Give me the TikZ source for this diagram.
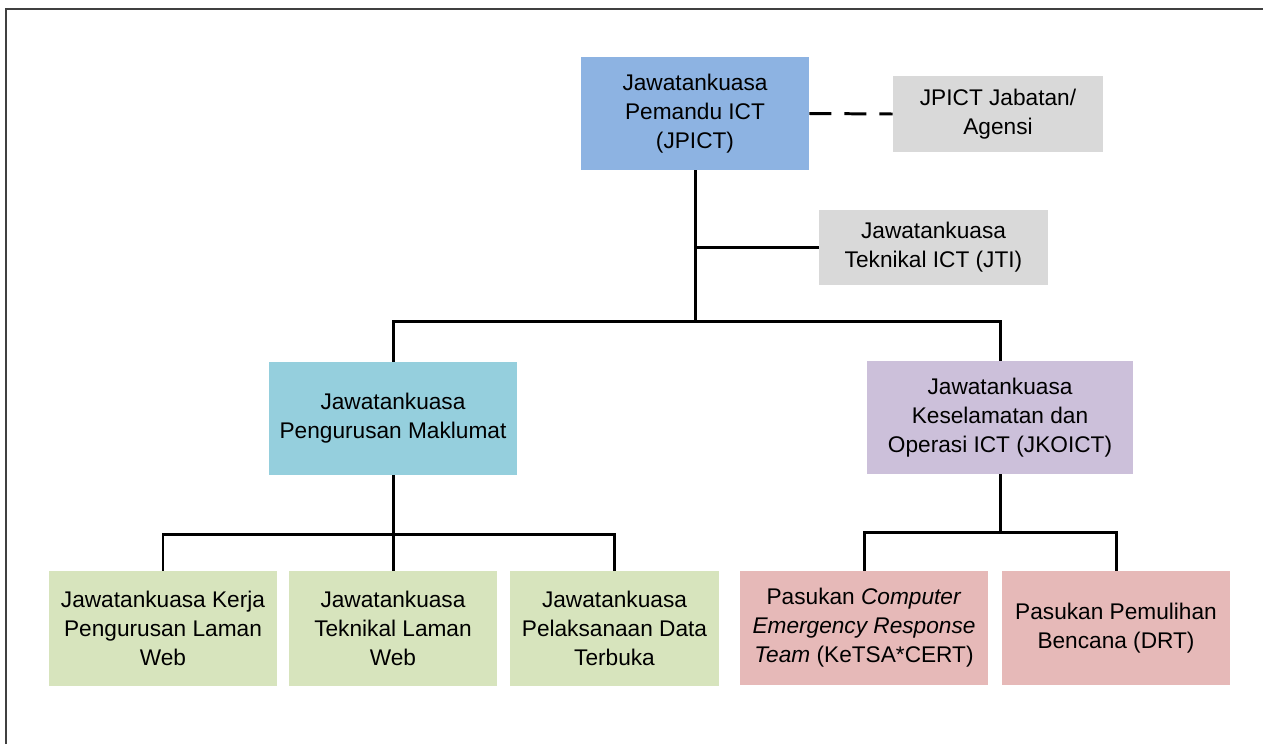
\documentclass[tikz,border=0pt]{standalone}
\usepackage{fontspec}
\setmainfont{Liberation Sans}
\usepackage{xcolor}
\usepackage{tikz}
\usetikzlibrary{positioning}
\definecolor{pandublue}{HTML}{8DB3E2}
\definecolor{agensigray}{HTML}{D9D9D9}
\definecolor{maklumatcyan}{HTML}{95CFDD}
\definecolor{operasililac}{HTML}{CCC0DA}
\definecolor{webgreen}{HTML}{D7E4BD}
\definecolor{pasukanred}{HTML}{E6B9B8}
\definecolor{framegray}{HTML}{404040}
\tikzset{
    unit/.style={rectangle, inner sep=2pt, align=center,
        font=\fontsize{12.9}{16.5}\selectfont},
    link/.style={line width=1.7pt, black},
}

\begin{document}
\begin{tikzpicture}[x=0.02cm, y=-0.02cm]
    \useasboundingbox (0,0) rectangle (1263,744);
    \draw[framegray, line width=1.1pt] (6,744) -- (6,9) -- (1263,9);

    \node[unit, fill=pandublue, minimum width=4.56cm, minimum height=2.26cm] (jpict) at (695,113.5)
        {Jawatankuasa\\Pemandu ICT\\(JPICT)};
    \node[unit, fill=agensigray, minimum width=4.2cm, minimum height=1.52cm] (agensi) at (998,114)
        {JPICT Jabatan/\\Agensi};
    \node[unit, fill=agensigray, minimum width=4.58cm, minimum height=1.52cm] (jti) at (933.5,247.5)
        {Jawatankuasa\\Teknikal ICT (JTI)};
    \node[unit, fill=maklumatcyan, minimum width=4.96cm, minimum height=2.26cm] (maklumat) at (393,418.5)
        {Jawatankuasa\\Pengurusan Maklumat};
    \node[unit, fill=operasililac, minimum width=5.34cm, minimum height=2.26cm] (jkoict) at (1000,417.5)
        {Jawatankuasa\\Keselamatan dan\\Operasi ICT (JKOICT)};
    \node[unit, fill=webgreen, minimum width=4.56cm, minimum height=2.3cm] (kerjaweb) at (163,628.5)
        {Jawatankuasa Kerja\\Pengurusan Laman\\Web};
    \node[unit, fill=webgreen, minimum width=4.18cm, minimum height=2.3cm] (teknikweb) at (393,628.5)
        {Jawatankuasa\\Teknikal Laman\\Web};
    \node[unit, fill=webgreen, minimum width=4.18cm, minimum height=2.3cm] (databuka) at (614.5,628.5)
        {Jawatankuasa\\Pelaksanaan Data\\Terbuka};
    \node[unit, fill=pasukanred, minimum width=4.96cm, minimum height=2.28cm] (ketsa) at (864,628)
        {Pasukan \textit{Computer}\\\textit{Emergency Response}\\\textit{Team} (KeTSA*CERT)};
    \node[unit, fill=pasukanred, minimum width=4.56cm, minimum height=2.28cm] (drt) at (1116,628)
        {Pasukan Pemulihan\\Bencana (DRT)};

    \coordinate (bustop) at (695,321);
    \coordinate (busleft) at (393,534);
    \coordinate (busright) at (1000,532);

    \draw[link, dash pattern=on 12.5pt off 7.4pt] (jpict.east) -- (agensi.west);
    \draw[link] (jpict.south) -- (bustop);
    \draw[link] (jpict.south |- jti.west) -- (jti.west);
    \draw[link] (maklumat.north) |- (bustop) -| (jkoict.north);
    \draw[link] (maklumat.south) -- (teknikweb.north);
    \draw[link] (kerjaweb.north) |- (busleft) -| (databuka.north);
    \draw[link] (jkoict.south) -- (busright);
    \draw[link] (ketsa.north) |- (busright) -| (drt.north);
\end{tikzpicture}
\end{document}
